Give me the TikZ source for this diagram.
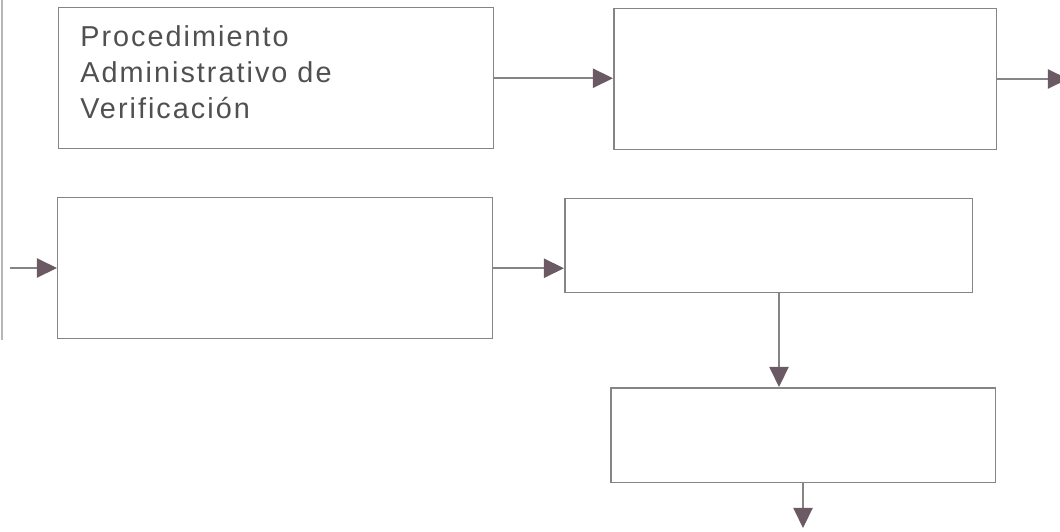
\documentclass[tikz,border=0pt]{standalone}
\usepackage{fontspec}
\setmainfont{Liberation Sans}[LetterSpace=7]
\usetikzlibrary{arrows.meta,calc}
\definecolor{linegray}{HTML}{858585}
\definecolor{tipgray}{HTML}{6B5A63}
\definecolor{textgray}{HTML}{505050}
\tikzset{
  procbox/.style = {shape=rectangle, draw=linegray, line width=0.85pt,
                    anchor=north west, inner sep=0pt},
  flow/.style    = {draw=linegray, line width=0.85pt,
                    -{Triangle[length=11.5pt,width=11pt,fill=tipgray,color=tipgray]}},
  boxtext/.style = {anchor=north west, inner sep=0pt, align=left,
                    text=textgray, font=\fontsize{16.4pt}{20.6pt}\selectfont}
}

\begin{document}
\begin{tikzpicture}[x=0.02cm, y=-0.02cm]
 \useasboundingbox (0,0) rectangle (1060,531);
 \draw[color=linegray!60, line width=0.6pt] (2,0) -- (2,340);

 \node [procbox, minimum width=8.7cm, minimum height=2.82cm] (verif) at (58,7) {};
 \node [boxtext] (verifText) at (80,25) {Procedimiento\\Administrativo de\\Verificaci\'on};
 \node [procbox, minimum width=7.66cm, minimum height=2.82cm] (stepB) at (613,8) {};
 \node [procbox, minimum width=8.7cm, minimum height=2.82cm] (stepC) at (57,197) {};
 \node [procbox, minimum width=8.16cm, minimum height=1.88cm] (stepD) at (564,198) {};
 \node [procbox, minimum width=7.7cm, minimum height=1.9cm] (stepE) at (610,387) {};

 \coordinate (outB) at (1068,79);
 \coordinate (inC) at (10,268);
 \coordinate (outE) at (803,528);

 \draw[flow] (verif.east) -- (verif.east -| stepB.west);
 \draw[flow] (stepB.east |- outB) -- (outB);
 \draw[flow] (inC) -- (inC -| stepC.west);
 \draw[flow] (stepC.east) -- (stepC.east -| stepD.west);
 \draw[flow] (stepD.south west) ++(215,0) coordinate (downD) -- (downD |- stepE.north);
 \draw[flow] (stepE.south -| outE) -- (outE);
\end{tikzpicture}
\end{document}
